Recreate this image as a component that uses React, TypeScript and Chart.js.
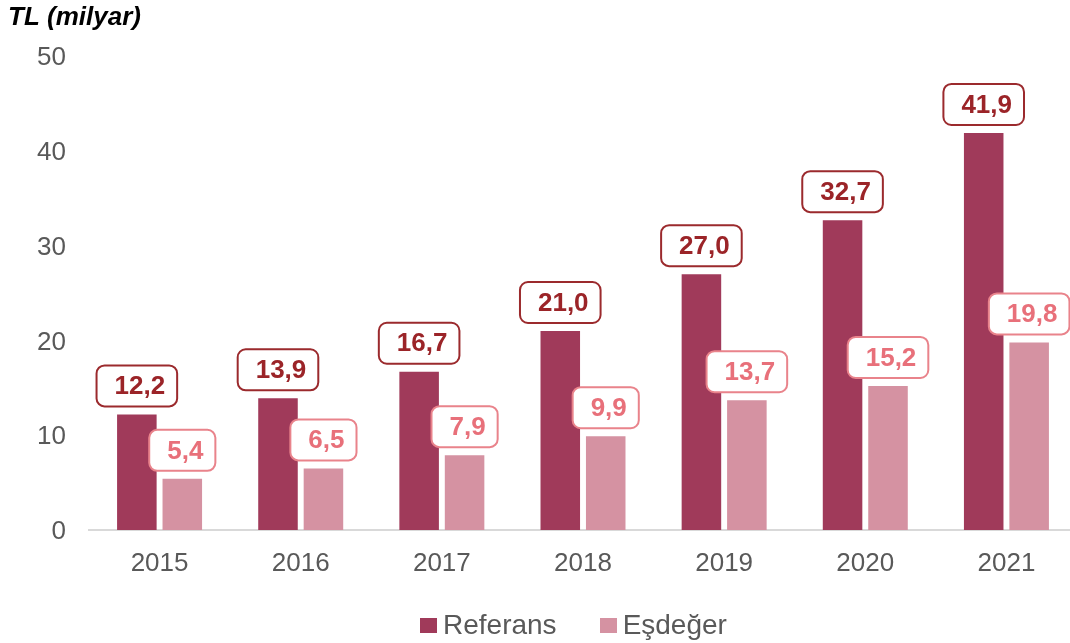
import React, { useEffect, useRef } from "react";
import { Chart, registerables } from "chart.js";

Chart.register(...registerables);

const categories = ["2015", "2016", "2017", "2018", "2019", "2020", "2021"];
const referans = [12.2, 13.9, 16.7, 21.0, 27.0, 32.7, 41.9];
const esdeger = [5.4, 6.5, 7.9, 9.9, 13.7, 15.2, 19.8];
const seriesNames = ["Referans", "Eşdeğer"];
const yTicks = [0, 10, 20, 30, 40, 50];

const barColors = ["#A03A5A", "#D592A2"];
const labelText = ["#9B2428", "#E8707A"];
const labelBorder = ["#9B2A2D", "#E9838B"];

const FONT = "Arial, 'Liberation Sans', Helvetica, sans-serif";

const labelPlugin = {
  id: "boxLabels",
  afterDatasetsDraw(chart: any) {
    const ctx = chart.ctx;
    ctx.save();
    ctx.font = `bold 26px ${FONT}`;
    ctx.textAlign = "center";
    ctx.textBaseline = "middle";
    chart.data.datasets.forEach((ds: any, di: number) => {
      const meta = chart.getDatasetMeta(di);
      meta.data.forEach((el: any, i: number) => {
        const txt = Number(ds.data[i]).toFixed(1).replace(".", ",");
        const tw = ctx.measureText(txt).width;
        const w = tw + 30;
        const h = 41;
        const bottom = el.y - 8;
        const x0 = el.x - w / 2;
        const y0 = bottom - h;
        ctx.beginPath();
        ctx.roundRect(x0, y0, w, h, 8);
        ctx.fillStyle = "#ffffff";
        ctx.fill();
        ctx.lineWidth = 2;
        ctx.strokeStyle = labelBorder[di];
        ctx.stroke();
        ctx.fillStyle = labelText[di];
        ctx.fillText(txt, el.x + 3, y0 + h / 2 + 1);
      });
    });
    ctx.restore();
  },
};

export default function App() {
  const ref = useRef<HTMLCanvasElement>(null);
  useEffect(() => {
    if (!ref.current) return;
    const chart = new Chart(ref.current, {
      type: "bar",
      data: {
        labels: categories,
        datasets: [
          { label: seriesNames[0], data: referans, backgroundColor: barColors[0] },
          { label: seriesNames[1], data: esdeger, backgroundColor: barColors[1] },
        ],
      },
      options: {
        responsive: false,
        animation: false,
        devicePixelRatio: 1,
        layout: { padding: { left: 8, right: 13, top: 2, bottom: 0 } },
        datasets: {
          bar: { categoryPercentage: 0.644, barPercentage: 0.87 },
        },
        plugins: {
          legend: { display: false },
          tooltip: { enabled: false },
          title: {
            display: true,
            text: "TL (milyar)",
            align: "start",
            color: "#000000",
            font: { family: FONT, size: 26, weight: "bold", style: "italic", lineHeight: 1.2 },
            padding: { top: 0, bottom: 23 },
          },
        },
        scales: {
          x: {
            grid: { display: false, drawTicks: false },
            border: { display: true, color: "#D9D9D9", width: 2 },
            ticks: { color: "#595959", font: { family: FONT, size: 26 }, padding: 18 },
            afterFit(scale: any) {
              scale.height = 113;
            },
          },
          y: {
            min: 0,
            max: 50,
            afterBuildTicks(scale: any) {
              scale.ticks = yTicks.map((v) => ({ value: v }));
            },
            grid: { display: false, drawTicks: false },
            border: { display: false },
            ticks: { color: "#595959", font: { family: FONT, size: 26 }, padding: 23, labelOffset: 2 },
            afterFit(scale: any) {
              scale.width = 81;
            },
          },
        },
      },
      plugins: [labelPlugin],
    } as any);
    return () => chart.destroy();
  }, []);

  const legendItem = (name: string, color: string) => (
    <div style={{ display: "flex", alignItems: "center", marginRight: 43 }}>
      <div style={{ width: 17, height: 15, background: color, marginRight: 6 }} />
      <span style={{ fontFamily: FONT, fontSize: 28, color: "#595959", lineHeight: "32px" }}>{name}</span>
    </div>
  );

  return (
    <div style={{ position: "fixed", left: 0, top: 0, width: 1070, height: 643, overflow: "hidden", background: "#fff" }}>
      <canvas ref={ref} width={1090} height={643} style={{ display: "block", width: 1090, height: 643 }} />
      <div
        style={{
          position: "absolute",
          left: 420,
          top: 609,
          display: "flex",
          alignItems: "center",
        }}
      >
        {legendItem(seriesNames[0], barColors[0])}
        {legendItem(seriesNames[1], barColors[1])}
      </div>
    </div>
  );
}
